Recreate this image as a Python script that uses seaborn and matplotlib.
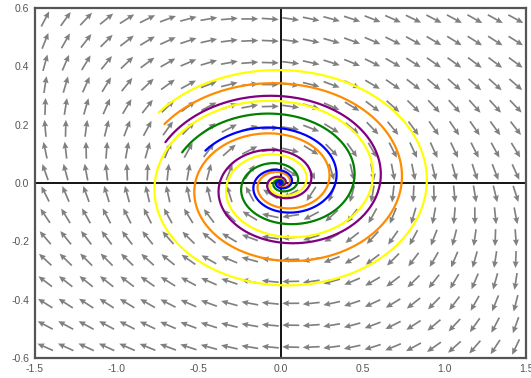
import numpy as np
import pandas as pd
import seaborn as sns
import matplotlib.pyplot as plt

# arrow angles (degrees, as seen on screen)
top_x = [-1.4375, -1.3125, -1.1875, -1.0625, -0.9375, -0.8125, -0.6875, -0.4375, -0.3125, -0.1875,
         -0.0625, 0.0625, 0.1875, 0.3125, 0.4375, 0.5625, 0.6875, 0.8125, 1.0625, 1.3125, 1.4375]
top_ang = [65, 55, 45, 35, 25, 20, 15, 10, 8, 5, 2, -3, -7, -12, -18, -25, -28, -28, -29, -30, -30]

left_x = [-1.4375, -1.3125, -1.1875, -1.0625, -0.9375, -0.8125]
left_y = [0.4875, 0.4125, 0.3375, 0.2625, 0.1875, 0.1125, 0.0375, -0.0375, -0.1125, -0.1875]
left_ang = [[70, 60, 50, 40, 30, 25],
            [80, 70, 57, 45, 37, 30],
            [85, 80, 65, 55, 45, 40],
            [90, 85, 80, 65, 55, 45],
            [95, 95, 90, 85, 75, 60],
            [105, 100, 95, 90, 85, 75],
            [110, 105, 100, 95, 90, 88],
            [115, 112, 108, 105, 100, 95],
            [125, 120, 118, 115, 110, 105],
            [135, 130, 125, 120, 118, 110]]

right_x = [0.8125, 0.9375, 1.0625, 1.1875, 1.3125, 1.4375]
right_y = [0.4125, 0.2625, -0.0375, -0.1125, -0.1875, -0.2625, -0.3375, -0.4125, -0.4875, -0.5625]
right_ang = [[-32, -33, -34, -34, -35, -35],
             [-40, -42, -43, -44, -45, -45],
             [-95, -92, -90, -90, -88, -88],
             [-110, -100, -95, -92, -92, -90],
             [-125, -110, -100, -95, -92, -92],
             [-145, -130, -110, -100, -95, -92],
             [-150, -140, -120, -110, -100, -95],
             [-155, -145, -130, -115, -105, -100],
             [-160, -150, -140, -125, -110, -100],
             [-160, -155, -145, -130, -115, -105]]

bottom_x = [-1.4375, -1.1875, -0.9375, -0.6875, -0.4375, -0.1875, -0.0625, 0.0625, 0.3125, 0.5625]
bottom_ang = [150, 155, 160, 165, 170, 175, 178, 182, 190, 195]

# linear part of the arrow field, x' = a x + b y, y' = c x + d y
a, b, c, d = -0.02, 1.0, -0.189, -0.02

# curves: clockwise spirals, aspect R, damping delta0 - delta1 * r
R, delta0, delta1 = 2.4, 0.31, 0.75
start_x = [-0.744, -0.709, -0.703, -0.601, -0.459]
start_y = [0.242, 0.202, 0.140, 0.105, 0.111]
curve_colors = ['#ffff00', '#ff8c00', '#800080', '#008000', '#0000ff']

xtick_vals = [-1.5, -1.0, -0.5, 0.0, 0.5, 1.0, 1.5]
ytick_vals = [-0.6, -0.4, -0.2, 0.0, 0.2, 0.4, 0.6]

W, H = 531, 378
ax_rect = [35 / W, 20 / H, 491 / W, 350 / H]
kx = 491 / 3.0
ky = 350 / 1.2

ox, oy, oa = [], [], []
ox += top_x; oy += [0.5625] * len(top_x); oa += top_ang
for yy, row in zip(left_y, left_ang):
    ox += left_x; oy += [yy] * len(row); oa += row
for yy, row in zip(right_y, right_ang):
    ox += right_x; oy += [yy] * len(row); oa += row
ox += bottom_x; oy += [-0.5625] * len(bottom_x); oa += bottom_ang
ox, oy, oa = np.array(ox), np.array(oy), np.radians(oa)


def basis(x, y):
    return np.stack([x * x, x * y, y * y, x ** 3, x * x * y, x * y * y, y ** 3], axis=-1)


# higher order terms fitted so the arrows follow the angles read above
P0 = a * ox + b * oy
Q0 = c * ox + d * oy
s = np.hypot(kx * P0, ky * Q0)
rP = s * np.cos(oa) / kx - P0
rQ = s * np.sin(oa) / ky - Q0
C = basis(ox, oy)
lam = 0.02
M = C.T @ C + lam * np.eye(C.shape[1])
cp = np.linalg.solve(M, C.T @ rP)
cq = np.linalg.solve(M, C.T @ rQ)


def field(x, y):
    x = np.asarray(x, float)
    y = np.asarray(y, float)
    B = basis(x, y)
    return a * x + b * y + B @ cp, c * x + d * y + B @ cq


def spiral(x, y):
    r = np.hypot(x / R, y)
    dl = delta0 - delta1 * r
    return R * y - dl * x, -x / R - dl * y


def trajectory(f, x0, y0, dt=0.02, n=4000):
    pts = [(x0, y0)]
    x, y = x0, y0
    for _ in range(n):
        k1 = f(x, y)
        k2 = f(x + dt / 2 * k1[0], y + dt / 2 * k1[1])
        k3 = f(x + dt / 2 * k2[0], y + dt / 2 * k2[1])
        k4 = f(x + dt * k3[0], y + dt * k3[1])
        x = x + dt / 6 * (k1[0] + 2 * k2[0] + 2 * k3[0] + k4[0])
        y = y + dt / 6 * (k1[1] + 2 * k2[1] + 2 * k3[1] + k4[1])
        pts.append((x, y))
    return np.array(pts)


frames = []
for i, (x0, y0) in enumerate(zip(start_x, start_y)):
    t = trajectory(spiral, x0, y0)
    frames.append(pd.DataFrame({'x': t[:, 0], 'y': t[:, 1], 'curve': i}))
curvas = pd.concat(frames, ignore_index=True)

sns.set_theme(style='white')
plt.rcParams['font.family'] = ['Liberation Sans', 'DejaVu Sans']

fig = plt.figure(figsize=(W / 100, H / 100), dpi=100)
ax = fig.add_axes(ax_rect)

gx = np.arange(-1.4375, 1.5, 0.125)
gy = np.arange(-0.5625, 0.6, 0.075)
GX, GY = np.meshgrid(gx, gy)
U, V = field(GX, GY)
U, V = U * kx, V * ky
mag = np.hypot(U, V)
ax.quiver(GX, GY, U / mag, V / mag, angles='uv', units='dots', scale_units='dots', scale=1 / 17,
          pivot='middle', color='#808080', width=1.7, headwidth=3.6, headlength=4, headaxislength=3.6, zorder=1)

ax.axhline(0, color='black', lw=1.3, zorder=2)
ax.axvline(0, color='black', lw=1.3, zorder=2)

sns.lineplot(data=curvas, x='x', y='y', hue='curve', units='curve', palette=curve_colors, sort=False,
             estimator=None, legend=False, linewidth=1.6, ax=ax, zorder=3)

ax.set_xlim(-1.5, 1.5)
ax.set_ylim(-0.6, 0.6)
ax.set(xlabel=None, ylabel=None)
ax.set_xticks(xtick_vals, [f'{v:.1f}' for v in xtick_vals])
ax.set_yticks(ytick_vals, [f'{v:.1f}' for v in ytick_vals])
ax.tick_params(length=0, labelsize=7.5, labelcolor='#555555', pad=4)
for sp in ax.spines.values():
    sp.set_color('#555555')
    sp.set_linewidth(1.6)

fig.savefig('out.png', dpi=100)
